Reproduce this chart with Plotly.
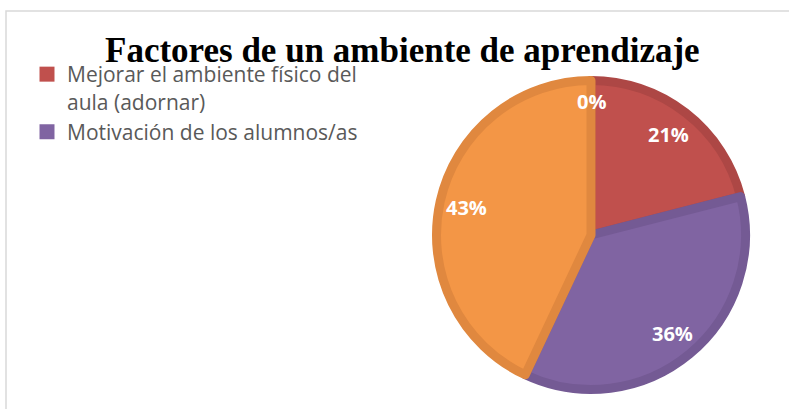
import math
import plotly.graph_objects as go

# ---- data ----
title_text = "Factores de un ambiente de aprendizaje"
slice_labels = ["Otro factor", "Mejorar el ambiente físico del aula (adornar)",
                "Motivación de los alumnos/as", "Otros factores"]
slice_values = [0, 21, 36, 43]
legend_labels = ["Mejorar el ambiente físico del<br>aula (adornar)", "Motivación de los alumnos/as"]

fill_colors = ["#4F81BD", "#C0504D", "#8064A2", "#F39646"]
edge_colors = ["#44709F", "#AD4745", "#745A94", "#E0883F"]
legend_colors = [fill_colors[1], fill_colors[2]]

W, H = 789, 409


def px(x):
    return x / W


def py(y):
    return 1 - y / H


# pie geometry (pixels of the final picture)
CX, CY, R = 591, 235, 159
EDGE = 9
R_IN = R - EDGE / 2
LABEL_R = 0.8

fig = go.Figure()

fig.add_trace(go.Pie(
    labels=slice_labels,
    values=slice_values,
    sort=False,
    direction="clockwise",
    rotation=0,
    marker=dict(colors=fill_colors, line=dict(color=edge_colors, width=EDGE)),
    textinfo="none",
    domain=dict(x=[px(CX - R_IN), px(CX + R_IN)], y=[py(CY + R_IN), py(CY - R_IN)]),
    showlegend=False,
    hoverinfo="label+percent",
))

for lab, col in zip(legend_labels, legend_colors):
    fig.add_trace(go.Scatter(
        x=[None], y=[None], mode="markers", name=lab,
        marker=dict(symbol="square", size=15, color=col),
        showlegend=True,
    ))

# percentage labels placed along each slice's bisector
annotations = []
total = sum(slice_values)
cum = 0
for v in slice_values:
    mid = (cum + v / 2) / total * 2 * math.pi
    cum += v
    r_lab = LABEL_R * R if v > 0 else 0.84 * R
    lx = CX + r_lab * math.sin(mid)
    ly = CY - r_lab * math.cos(mid)
    annotations.append(dict(
        text="<b>%d%%</b>" % round(100 * v / total),
        x=px(lx), y=py(ly), xref="paper", yref="paper",
        xanchor="center", yanchor="middle", showarrow=False,
        font=dict(family="Open Sans", size=20, color="white"),
    ))

annotations.append(dict(
    text="<b>" + title_text + "</b>",
    x=px(403), y=py(50), xref="paper", yref="paper",
    xanchor="center", yanchor="middle", showarrow=False,
    font=dict(family="Liberation Serif", size=35, color="black"),
))

fig.update_layout(
    width=W, height=H,
    margin=dict(l=0, r=0, t=0, b=0),
    paper_bgcolor="white",
    plot_bgcolor="white",
    xaxis=dict(visible=False),
    yaxis=dict(visible=False),
    legend=dict(
        x=px(27), y=py(54), xanchor="left", yanchor="top",
        font=dict(family="Open Sans", size=21, color="#595959"),
        valign="top",
        bgcolor="rgba(0,0,0,0)",
        tracegroupgap=0,
    ),
    shapes=[dict(
        type="rect", xref="paper", yref="paper",
        x0=px(6), x1=1.1, y0=-0.1, y1=py(11),
        line=dict(color="#D9D9D9", width=1.5), layer="below",
    )],
    annotations=annotations,
)

fig.write_html("out.html", config={"displayModeBar": False},
               post_script="document.body.style.margin='0px';")
